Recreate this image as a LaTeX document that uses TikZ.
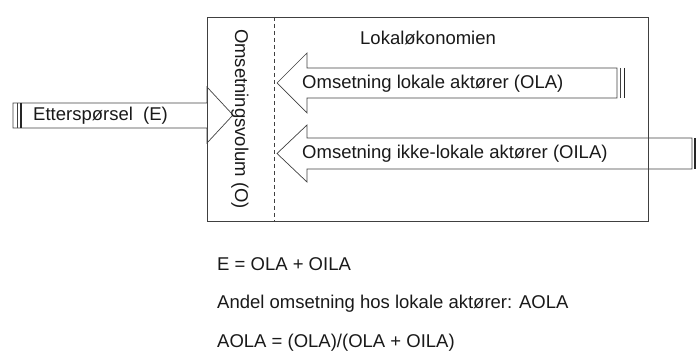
\documentclass[tikz,border=0pt]{standalone}
\usepackage{fontspec}
\setmainfont{Liberation Sans}
\begin{document}
\begin{tikzpicture}[x=1pt,y=-1pt,
  line/.style={draw=black!75, line width=0.7pt},
  thickbar/.style={draw=black!85, line width=1.6pt},
  lbl/.style={font=\fontsize{18.5}{22}\selectfont, text=black!90, inner sep=0pt, anchor=west}]
\useasboundingbox (0,0) rectangle (699,358);
% main box
\draw[line] (207,17) rectangle (648,221);
\draw[line, dash pattern=on 4pt off 3pt] (274,17) -- (274,221);
% Etterspørsel arrow
\draw[line] (13,103) -- (207,103) -- (207,87) -- (233,115) -- (207,143) -- (207,128) -- (13,128) -- cycle;
\draw[line] (17,103) -- (17,128);
\draw[thickbar] (21,103) -- (21,128);
% OLA arrow
\draw[line] (617,68) -- (307,68) -- (307,53) -- (277,83) -- (307,113) -- (307,98) -- (617,98) -- cycle;
\draw[line] (620,68) -- (620,98);
\draw[thickbar] (624.5,68) -- (624.5,98);
% OILA arrow
\draw[line] (692,138) -- (307,138) -- (307,125) -- (277,153.5) -- (307,182) -- (307,169) -- (692,169) -- cycle;
\draw[thickbar] (695,138) -- (695,169);
% texts
\node[lbl] (title) at (360,38) {Lokaløkonomien};
\node[lbl] (etter) at (33,115.5) {Etterspørsel\ \ (E)};
\node[lbl] (ola) at (302,84) {Omsetning lokale aktører (OLA)};
\node[lbl] (oila) at (302,154) {Omsetning ikke-lokale aktører (OILA)};
\node[font=\fontsize{18.5}{22}\selectfont, text=black!90, inner sep=0pt, rotate=-90] (vol) at (240,119) {Omsetningsvolum (O)};
\node[lbl] (eq1) at (217,264) {E = OLA + OILA};
\node[lbl] (eq2) at (217,304) {Andel omsetning hos lokale aktører: AOLA};
\node[lbl] (eq3) at (217,343) {AOLA = (OLA)/(OLA + OILA)};
\end{tikzpicture}
\end{document}
